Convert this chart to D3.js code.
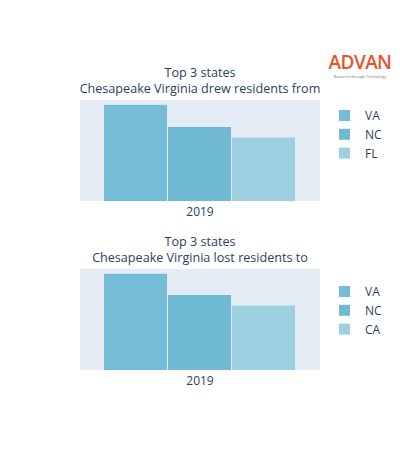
<!DOCTYPE html>
<html><head><meta charset="utf-8">
<script src="https://cdn.jsdelivr.net/npm/d3@7"></script>
<style>body{margin:0;background:#fff}text{font-family:"Open Sans",sans-serif}</style>
</head><body><div id="chart"></div>
<script>
const year = "2019";
const fromStates = ["VA", "NC", "FL"];
const fromValues = [100, 77, 66];
const toStates = ["VA", "NC", "CA"];
const toValues = [100, 78, 67];
const barColors = ["#74bcd7", "#70b9d4", "#9dd0e1"];

const svg = d3.select("#chart").append("svg").attr("width", 400).attr("height", 450);

// logo
const logo = svg.append("g");
logo.append("text").attr("x", 360).attr("y", 69).attr("text-anchor", "middle")
    .attr("fill", "#e8532b").attr("font-size", 19).attr("font-weight", 600).attr("letter-spacing", -0.6).text("ADVAN");
logo.append("text").attr("x", 360).attr("y", 78).attr("text-anchor", "middle")
    .attr("fill", "#777").attr("font-size", 3.8).text("Research through Technology");

function drawPanel(top, titleLines, states, values, legOffset){
    const m = {left: 80, width: 240, plotTop: top + 22, plotH: 101};
    const g = svg.append("g");
    titleLines.forEach((t, i) => {
        g.append("text").attr("x", 200).attr("y", top - 1 + i * 16).attr("text-anchor", "middle")
            .attr("fill", "#2a3f5f").attr("font-size", 12.6).text(t);
    });
    g.append("rect").attr("x", m.left).attr("y", m.plotTop).attr("width", m.width).attr("height", m.plotH).attr("fill", "#e5ecf6");

    const x0 = d3.scaleBand().domain([year]).range([m.left, m.left + m.width]).paddingInner(0.2).paddingOuter(0.1);
    const x1 = d3.scaleBand().domain(states).range([0, x0.bandwidth()]);
    const y = d3.scaleLinear().domain([0, 105]).range([m.plotTop + m.plotH, m.plotTop]);

    g.selectAll(".bar").data(states).join("rect")
        .attr("x", s => x0(year) + x1(s))
        .attr("width", x1.bandwidth() - 1)
        .attr("y", (s, i) => y(values[i]))
        .attr("height", (s, i) => y(0) - y(values[i]))
        .attr("fill", (s, i) => barColors[i]);

    g.append("text").attr("x", x0(year) + x0.bandwidth() / 2).attr("y", m.plotTop + m.plotH + 15)
        .attr("text-anchor", "middle").attr("fill", "#2a3f5f").attr("font-size", 12).text(year);

    const leg = g.selectAll(".leg").data(states).join("g")
        .attr("transform", (s, i) => `translate(339,${m.plotTop + legOffset + i * 18.8})`);
    leg.append("rect").attr("width", 11).attr("height", 11).attr("fill", (s, i) => barColors[i]);
    leg.append("text").attr("x", 26).attr("y", 10).attr("fill", "#2a3f5f").attr("font-size", 12).text(s => s);
}

drawPanel(78, ["Top 3 states", "Chesapeake Virginia drew residents from"], fromStates, fromValues, 10);
drawPanel(247, ["Top 3 states", "Chesapeake Virginia lost residents to"], toStates, toValues, 17);
</script></body></html>
